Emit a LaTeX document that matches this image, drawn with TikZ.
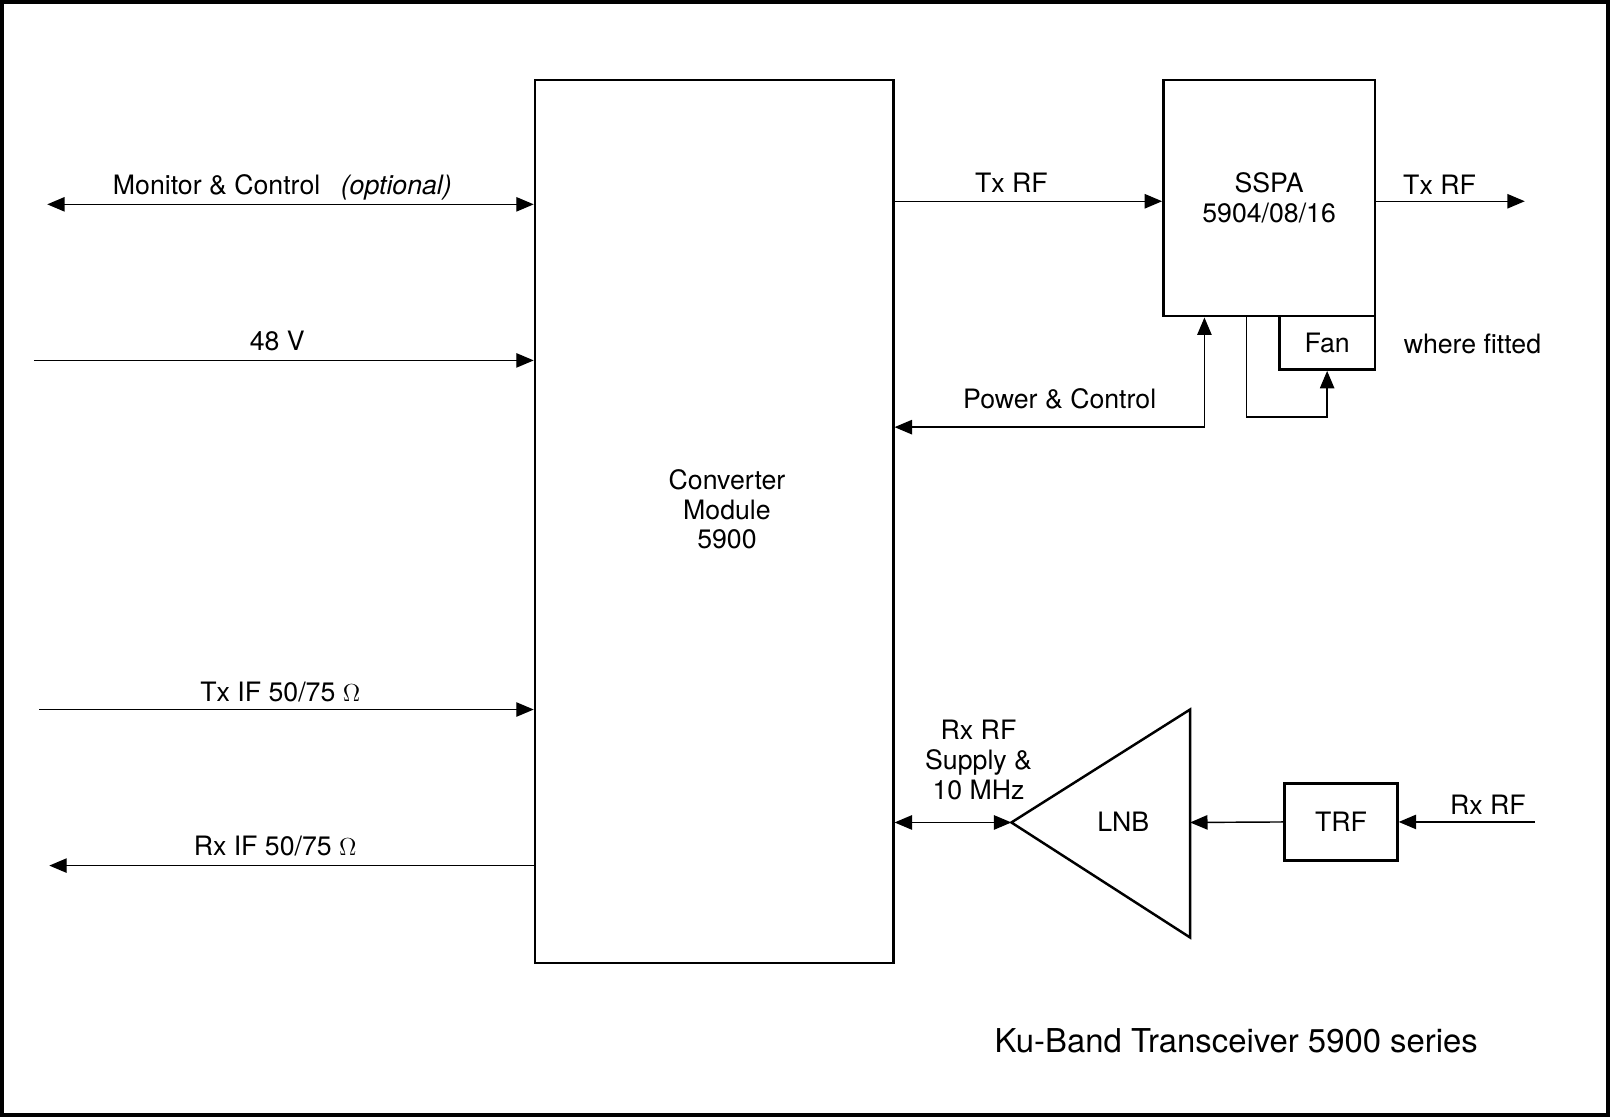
\documentclass[tikz,border=0pt]{standalone}
\usepackage{fontspec}
\setmainfont{TeX Gyre Heros}
\usetikzlibrary{arrows.meta,positioning}
\begin{document}
\begin{tikzpicture}[x=0.5pt,y=-0.5pt,
  font=\fontsize{13}{14.5}\selectfont,
  block/.style={draw,rectangle,line width=1.2pt,inner sep=0pt,align=center},
  wire/.style={line width=0.7pt},
  sig/.style={wire,-{Triangle[length=8.5pt,width=7pt]}},
  bisig/.style={wire,{Triangle[length=8.5pt,width=7pt]}-{Triangle[length=8.5pt,width=7pt]}},
  lbl/.style={anchor=base,inner sep=0pt,align=center}]
\useasboundingbox (0,0) rectangle (1568,1088);
\draw[line width=2pt] (2,2) rectangle (1566,1086);
\node[block,minimum width=174.5pt,minimum height=430pt] (conv) at (695.5,508) {};
\node[align=center,inner sep=0pt] (convtext) at (708,496) {Converter\\Module\\5900};
\node[block,minimum width=103pt,minimum height=115pt] (sspa) at (1236,193) {SSPA\\5904/08/16};
\node[block,minimum width=46.5pt,minimum height=26pt] (fan) at (1292.5,334) {Fan};
\node[block,minimum width=55pt,minimum height=37.5pt] (trf) at (1306,800.5) {TRF};
\coordinate (lnbtip) at (985,801);
\coordinate (lnbback) at (1159,801);
\draw[line width=1.2pt] (lnbtip) -- (1159,691) -- (1159,913) -- cycle;
\node (lnb) at (1094,800) {LNB};
\coordinate (mcend) at (46,199);
\coordinate (vin) at (33,351);
\coordinate (txif) at (38,691);
\coordinate (rxif) at (48,843);
\coordinate (txrfout) at (1485,196);
\coordinate (pcturn) at (1173,416);
\coordinate (fanturn) at (1214,406);
\coordinate (rxrf) at (1495,800.5);
\draw[bisig] (mcend) -- (conv.west |- mcend);
\draw[sig] (vin) -- (conv.west |- vin);
\draw[sig] (txif) -- (conv.west |- txif);
\draw[sig] (conv.west |- rxif) -- (rxif);
\draw[sig] (conv.east |- txrfout) -- (sspa.west |- txrfout);
\draw[sig] (sspa.east |- txrfout) -- (txrfout);
\draw[bisig] (sspa.south -| pcturn) -- (pcturn) -- (conv.east |- pcturn);
\draw[sig] (sspa.south -| fanturn) -- (fanturn) -- (fanturn -| fan.south) -- (fan.south);
\draw[bisig] (conv.east |- lnbtip) -- (lnbtip);
\draw[sig] (trf.west) -- (lnbback);
\draw[sig] (rxrf) -- (trf.east);
\node[lbl] (mclabel) at (275,189) {Monitor \& Control\hspace{10pt}\textit{(optional)}};
\node[lbl] (vlabel) at (270,341) {48 V};
\node[lbl] (txiflabel) at (273,683) {Tx IF 50/75 $\Omega$};
\node[lbl] (rxiflabel) at (268,833) {Rx IF 50/75 $\Omega$};
\node[lbl] (txrflabel) at (985,187) {Tx RF};
\node[lbl] (txoutlabel) at (1402,189) {Tx RF};
\node[lbl] (pclabel) at (1032,398) {Power \& Control};
\node[lbl] (fitlabel) at (1434,344) {where fitted};
\node[lbl] (rxrflabel) at (1449,793) {Rx RF};
\node[align=center,inner sep=0pt] (supplylabel) at (953,740) {Rx RF\\Supply \&\\10 MHz};
\node[lbl,font=\fontsize{16}{19}\selectfont] (title) at (1204,1025) {Ku-Band Transceiver 5900 series};
\end{tikzpicture}
\end{document}
